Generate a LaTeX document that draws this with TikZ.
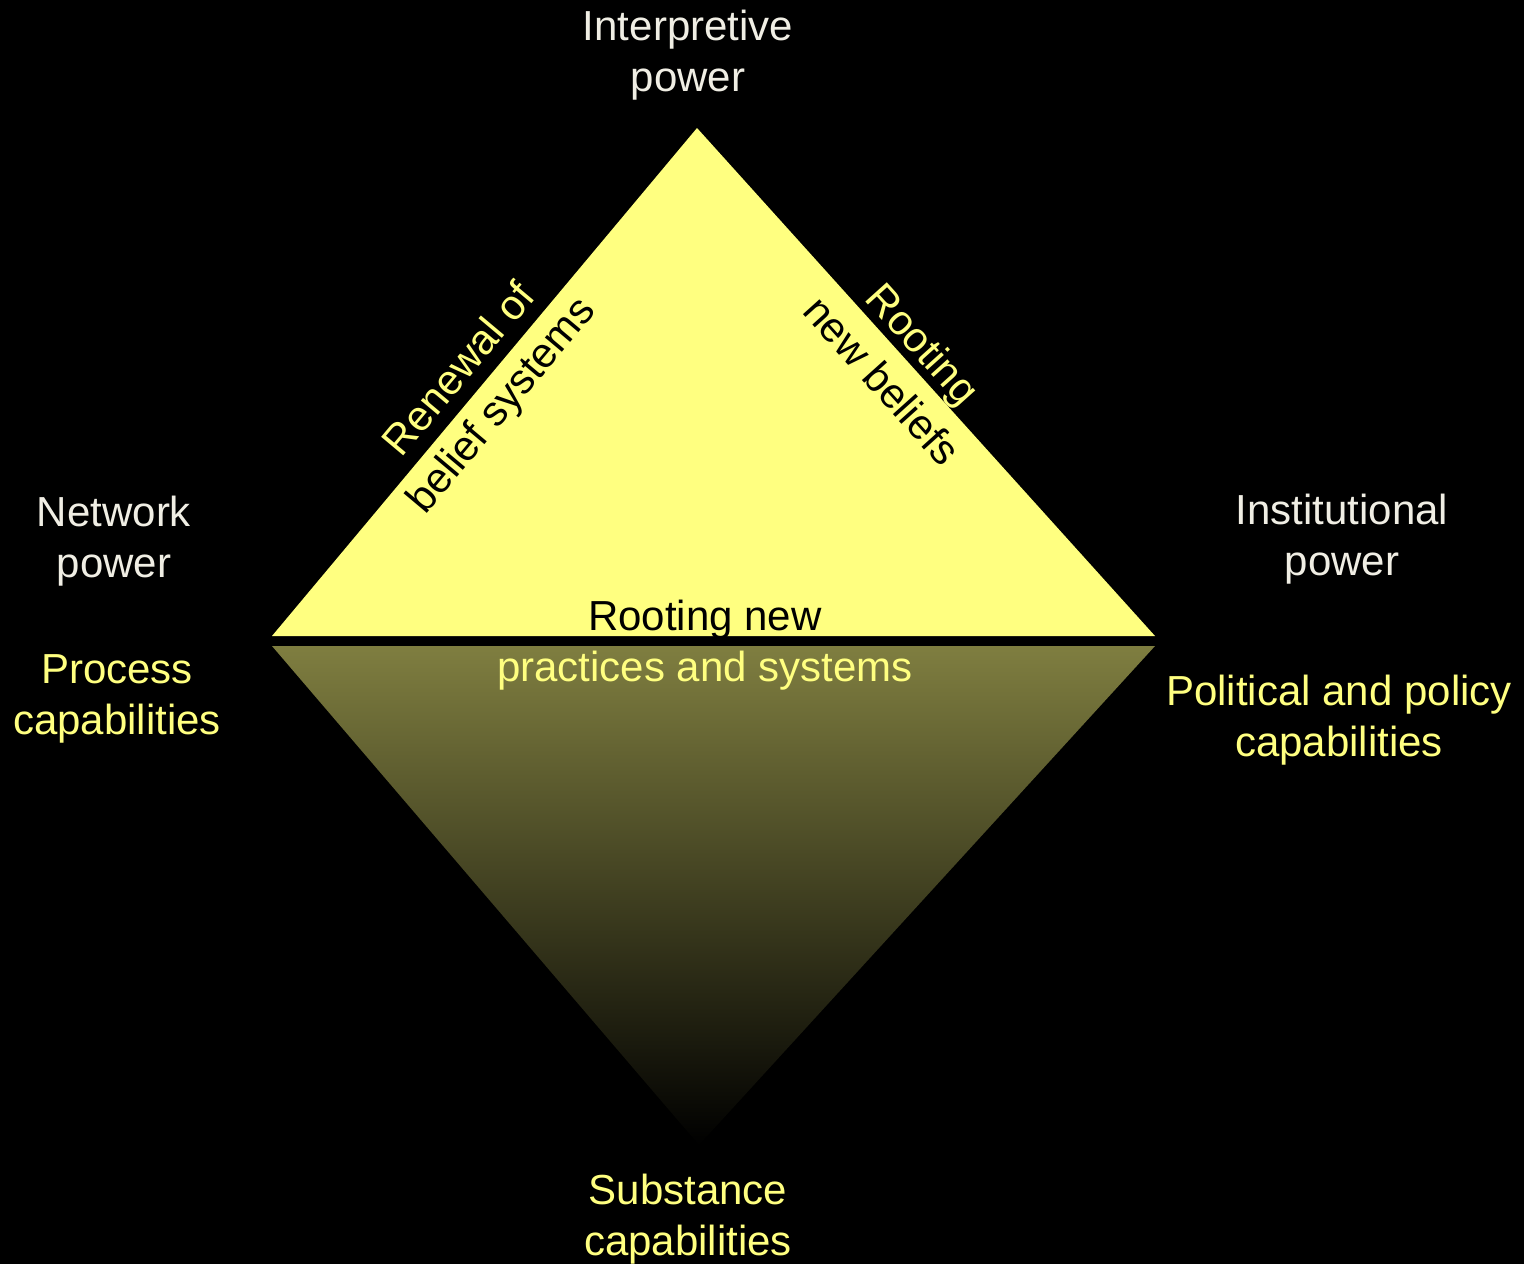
\documentclass[tikz,border=0pt]{standalone}
\usepackage{fontspec}
\setmainfont{Liberation Sans}
\definecolor{triyellow}{HTML}{FFFF80}
\definecolor{txtyellow}{HTML}{FFFF80}
\definecolor{txtwhite}{HTML}{F0EEE4}
\definecolor{olive}{HTML}{7F7E40}
\begin{document}
\begin{tikzpicture}[x=0.5pt,y=-0.5pt,
  lbl/.style={align=center,inner sep=0pt,font=\fontsize{21pt}{25.5pt}\selectfont},
  rotlbl/.style={align=center,inner sep=0pt,font=\fontsize{21pt}{27.5pt}\selectfont},
  whitelbl/.style={lbl,text=txtwhite},
  yellowlbl/.style={lbl,text=txtyellow}]
\fill[black] (0,0) rectangle (1524,1264);
\useasboundingbox (0,0) rectangle (1524,1264);
% lower triangle with gradient
\shade[top color=olive,bottom color=black] (272,646) -- (1155,646) -- (699,1145) -- cycle;
% upper triangle
\fill[triyellow] (272,636) -- (697,128) -- (1155,636) -- cycle;
% labels
\node[whitelbl] (interp) at (688,55) {Interpretive\\power};
\node[whitelbl] (network) at (114,541) {Network\\power};
\node[yellowlbl] (process) at (117,699) {Process\\capabilities};
\node[whitelbl] (instit) at (1342,539) {Institutional\\power};
\node[yellowlbl] (political) at (1339,720) {Political and policy\\capabilities};
\node[yellowlbl] (substance) at (688,1219) {Substance\\capabilities};
\node[lbl] (rootpract) at (705,645) {{\color{black}Rooting new}\\{\color{txtyellow}practices and systems}};
\node[rotlbl,rotate=50] (renewal) at (482,389) {{\color{txtyellow}Renewal of}\\{\color{black}belief systems}};
\node[rotlbl,rotate=-48] (rootbel) at (903,362) {{\color{txtyellow}Rooting}\\{\color{black}new beliefs}};
\end{tikzpicture}
\end{document}
